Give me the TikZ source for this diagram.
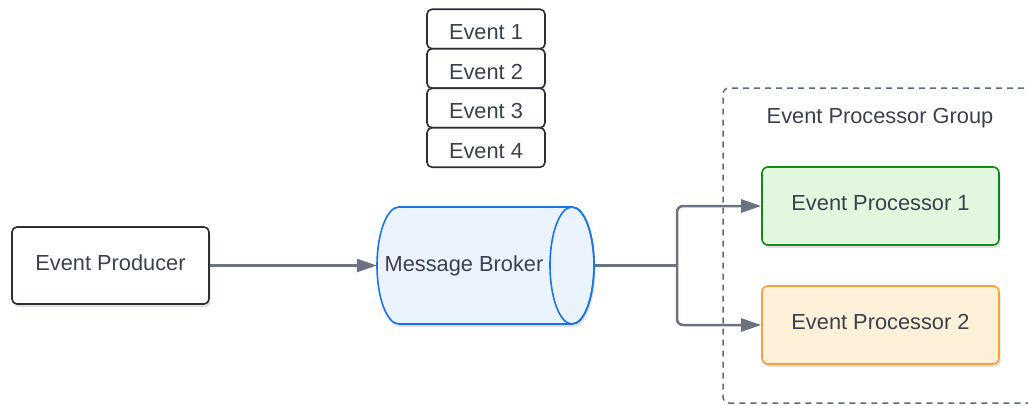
\documentclass[tikz,border=0pt]{standalone}
\usepackage{fontspec}
\setmainfont{Liberation Sans}
\usetikzlibrary{arrows.meta, positioning, shapes.geometric, shadows}
\definecolor{evtext}{HTML}{3A414E}
\definecolor{evline}{HTML}{6B7280}
\definecolor{evdark}{HTML}{2B2F36}
\definecolor{evblue}{HTML}{1A73E8}
\definecolor{evbluefill}{HTML}{EBF3FE}
\definecolor{evgreen}{HTML}{0F8A12}
\definecolor{evgreenfill}{HTML}{E1F8DF}
\definecolor{evorange}{HTML}{F7A13D}
\definecolor{evorangefill}{HTML}{FFF0D9}
\definecolor{evdash}{HTML}{5E6A7D}
\tikzset{
  evfont/.style={font=\fontsize{21.8}{26}\selectfont, text=evtext},
  evshadow/.style={drop shadow={shadow xshift=1.5pt, shadow yshift=-3pt, opacity=0.12, fill=black}},
  evbox/.style={evfont, draw=evdark, line width=1.6pt, rounded corners=5pt, fill=white, inner sep=0pt},
  eventbox/.style={evbox, minimum width=118pt, minimum height=39.5pt, text height=21pt, text depth=0pt},
  procbox/.style={evfont, line width=1.6pt, rounded corners=6pt, inner sep=0pt, text depth=6pt,
                  minimum width=237pt, minimum height=78pt, evshadow},
  brokerline/.style={draw=evblue, line width=1.6pt},
  conn/.style={evline, line width=2.5pt, rounded corners=6pt},
  connarrow/.style={conn, -{Triangle[length=20pt, width=13pt]}}
}
\begin{document}
\begin{tikzpicture}[x=1pt, y=-1pt]
      \useasboundingbox (0,0) rectangle (1028,405);
      % Event processor group
      \draw[evdash, line width=1.5pt, dash pattern=on 6pt off 5pt, rounded corners=6pt]
           (1035,88) -- (723,88) -- (723,403) -- (1035,403);
      \node[evfont] (grouplabel) at (880,118) {Event Processor Group};
      % Queued events
      \foreach \i in {1,...,4}
        \node[eventbox] (ev\i) at (486,{29+39.5*(\i-1)}) {Event \i};
      % Producer
      \node[evbox, minimum width=197pt, minimum height=77pt, text depth=6pt, evshadow] (producer) at (110.5,265.5) {Event Producer};
      % Broker cylinder
      \filldraw[brokerline, fill=evbluefill, evshadow]
           (572,207) -- (399,207) arc[start angle=-90, end angle=-270, x radius=22, y radius=58.5]
           -- (572,324) arc[start angle=90, end angle=-90, x radius=22, y radius=58.5] -- cycle;
      \draw[brokerline] (572,265.5) ellipse[x radius=22, y radius=58.5];
      \node[evfont, minimum width=218pt, minimum height=117pt, inner sep=0pt] (broker) at (486,265.5) {Message Broker\kern44pt};
      % Processors
      \node[procbox, draw=evgreen, fill=evgreenfill] (proc1) at (880.5,206) {Event Processor 1};
      \node[procbox, draw=evorange, fill=evorangefill] (proc2) at (880.5,325) {Event Processor 2};
      % Connectors
      \coordinate (split) at (677,265.5);
      \draw[connarrow] (producer.east) -- (broker.west);
      \draw[conn] (broker.east) -- (split);
      \draw[connarrow] (split) |- (proc1.west);
      \draw[connarrow] (split) |- (proc2.west);
\end{tikzpicture}
\end{document}
